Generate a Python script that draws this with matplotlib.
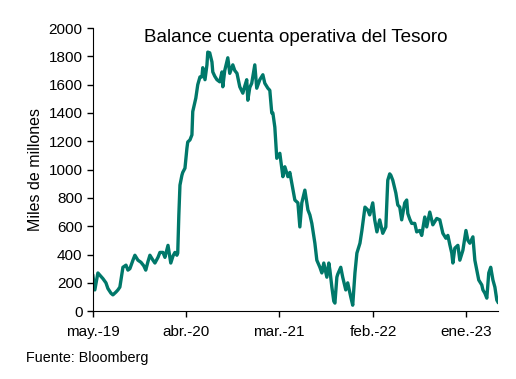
import numpy as np
import pandas as pd
import matplotlib
matplotlib.use("Agg")
import matplotlib.pyplot as plt

plt.rcParams['font.family'] = ['Liberation Sans', 'DejaVu Sans']

# días desde el 1-may-2019 y saldo (miles de millones USD)
start = pd.Timestamp("2019-05-01")
days = [0, 7, 18, 29, 36, 47, 54, 65, 72, 83, 90, 97, 108, 119, 126, 133, 144, 151,
        162, 173, 183, 190, 198, 205, 216, 223, 234, 241, 252, 259, 270, 277, 280, 288,
        295, 302, 305, 309, 313, 320, 323, 331, 338, 341, 349, 356, 359, 370, 377, 385,
        392, 395, 403, 410, 413, 420, 428, 431, 438, 446, 456, 464, 467, 474, 485, 492,
        503, 510, 518, 528, 539, 546, 553, 557, 564, 571, 582, 589, 600, 611, 618, 629,
        636, 643, 647, 654, 661, 672, 683, 690, 701, 708, 715, 726, 737, 744, 751, 762,
        773, 780, 787, 798, 805, 816, 823, 830, 841, 848, 852, 859, 866, 870, 877, 880,
        891, 898, 909, 916, 927, 934, 942, 949, 960, 967, 978, 988, 995, 1006, 1013, 1021,
        1031, 1042, 1053, 1060, 1067, 1071, 1078, 1089, 1096, 1103, 1110, 1121, 1128, 1132,
        1139, 1146, 1157, 1164, 1175, 1182, 1193, 1200, 1211, 1222, 1236, 1247, 1258, 1269,
        1276, 1283, 1290, 1294, 1301, 1312, 1319, 1330, 1341, 1348, 1355, 1366, 1373, 1380,
        1387, 1398, 1402, 1409, 1416, 1423, 1430, 1438, 1445, 1452, 1456]
saldo = [250, 150, 270, 245, 230, 200, 160, 127, 115, 135, 150, 170, 310, 325, 290, 300, 360, 395,
         360, 345, 320, 290, 350, 395, 360, 340, 380, 415, 415, 380, 465, 380, 340, 390,
         415, 395, 410, 680, 890, 960, 980, 1010, 1150, 1195, 1210, 1245, 1410, 1505, 1600, 1655,
         1655, 1720, 1635, 1740, 1830, 1825, 1760, 1690, 1660, 1635, 1620, 1690, 1585, 1700, 1790, 1680,
         1740, 1700, 1680, 1585, 1540, 1590, 1635, 1490, 1580, 1610, 1740, 1575, 1635, 1670, 1610, 1575,
         1560, 1400, 1400, 1300, 1080, 1115, 950, 1020, 950, 980, 905, 785, 765, 595, 765, 855,
         715, 680, 620, 480, 360, 310, 270, 340, 240, 340, 290, 170, 70, 57, 240, 260,
         310, 240, 150, 200, 100, 42, 270, 410, 480, 570, 735, 715, 680, 765, 645, 560,
         645, 550, 595, 925, 970, 960, 925, 835, 750, 735, 645, 765, 785, 690,
         650, 620, 620, 560, 570, 535, 665, 595, 700, 610, 655, 645, 550, 515,
         535, 470, 410, 340, 445, 465, 360, 430, 570, 500, 480, 525, 360, 290,
         220, 185, 150, 127, 92, 270, 310, 220, 170, 78, 64]

tick_dates = ["2019-05-01", "2020-04-01", "2021-03-01", "2022-02-01", "2023-01-01"]
tick_labels = ["may.-19", "abr.-20", "mar.-21", "feb.-22", "ene.-23"]

fechas = start + pd.to_timedelta(days, unit="D")

fig = plt.figure(figsize=(5.16, 3.79), dpi=100)
ax = fig.add_axes([0.180, 0.179, 0.785, 0.747])
ax.plot(fechas, saldo, color="#00786A", lw=2.4, solid_joinstyle="round")

ax.set_xlim(start, start + pd.Timedelta(days=1456))
ax.set_ylim(0, 2000)
ax.set_yticks(np.arange(0, 2001, 200))
ax.set_xticks(pd.to_datetime(tick_dates))
ax.set_xticklabels(tick_labels)
ax.tick_params(labelsize=11, length=4, width=1, colors="black")
ax.tick_params(axis="x", pad=6)
for s in ["top", "right"]:
    ax.spines[s].set_visible(False)
ax.set_ylabel("Miles de millones", fontsize=11.5)

fig.text(0.574, 0.900, "Balance cuenta operativa del Tesoro", fontsize=13.6, ha="center", va="center")
fig.text(0.050, 0.055, "Fuente: Bloomberg", fontsize=10.4, ha="left", va="center")

fig.savefig("out.png", dpi=100)
